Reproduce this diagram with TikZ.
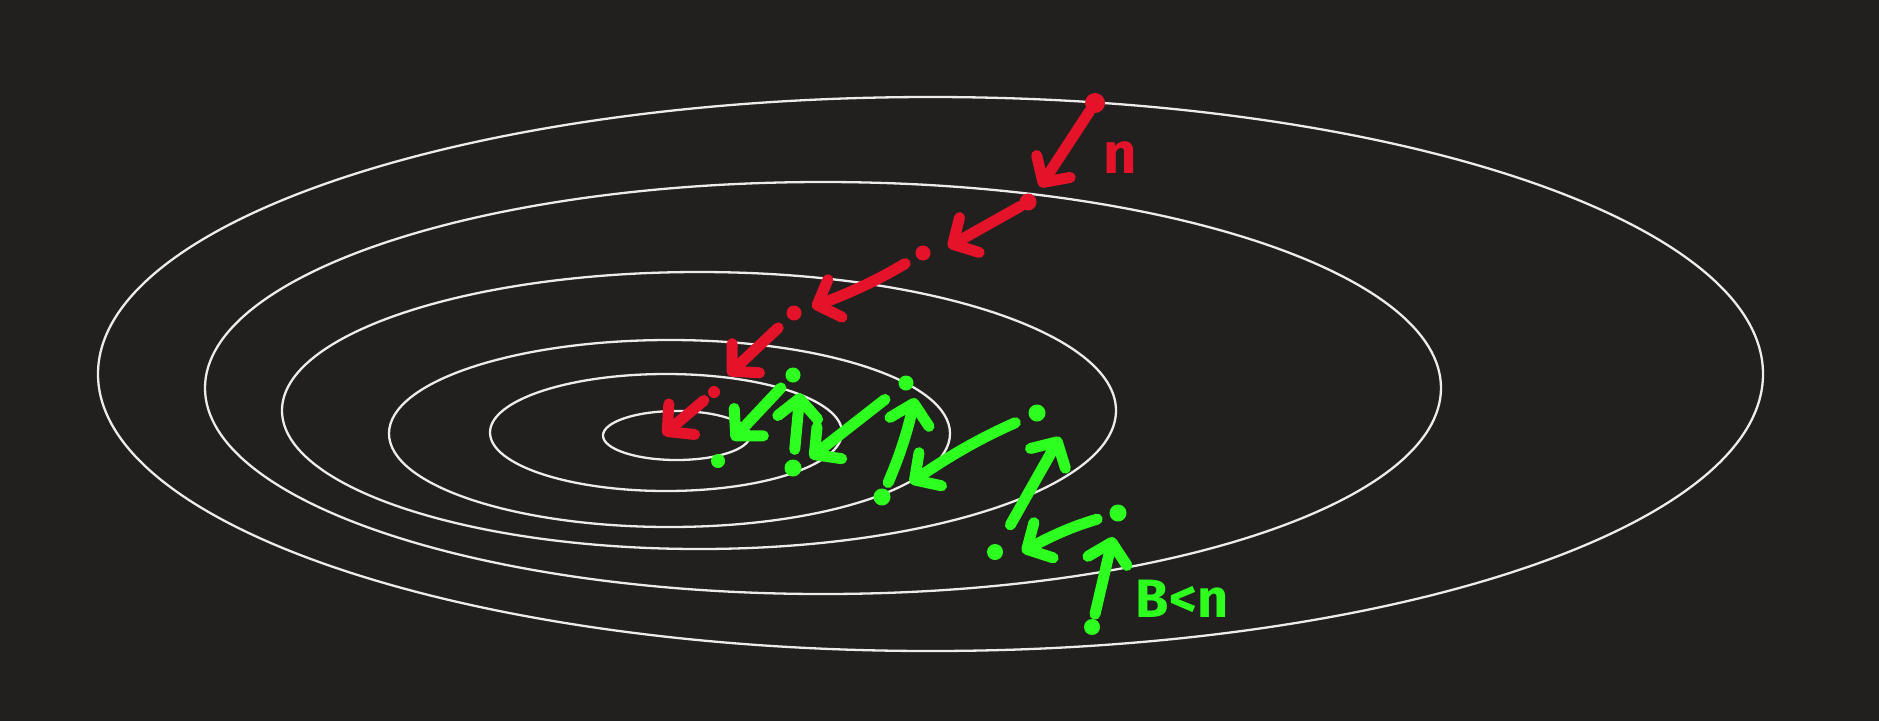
\documentclass[tikz,border=0pt]{standalone}
\usepackage{fontspec}
\setmainfont{Fira Sans}
\usetikzlibrary{arrows.meta}
\definecolor{boardbg}{HTML}{21201E}
\definecolor{contourcol}{HTML}{ECECEC}
\definecolor{stepred}{HTML}{E5132A}
\definecolor{stepgreen}{HTML}{2DFF1E}
\begin{document}
\begin{tikzpicture}[x=1pt,y=-1pt,
      contour/.style={draw=contourcol,line width=2.3pt},
      dotr/.style={circle,fill=stepred,inner sep=0pt,minimum size=15pt},
      dotg/.style={circle,fill=stepgreen,inner sep=0pt,minimum size=15pt},
      stepr/.style={draw=stepred,line width=11pt,line cap=round,
        -{Straight Barb[length=19pt,width=40pt,round]}},
      stepg/.style={draw=stepgreen,line width=11pt,line cap=round,
        -{Straight Barb[length=19pt,width=40pt,round]}}]
      \fill[boardbg] (0,0) rectangle (1879,721);
      \useasboundingbox (0,0) rectangle (1879,721);
      % level curves
      \draw[contour] (930.5,374) ellipse (832.5 and 277);
      \draw[contour] (823,388) ellipse (618 and 206);
      \draw[contour] (699,410.5) ellipse (417 and 138.5);
      \draw[contour] (669.5,433.5) ellipse (280.5 and 93.5);
      \draw[contour] (666,432.5) ellipse (176 and 58.5);
      \draw[contour] (676.5,435.5) ellipse (73.5 and 24.5);
      % red steps
      \node[dotr,minimum size=20pt] (r1) at (1095,103) {};
      \node[dotr,minimum size=17pt] (r2) at (1028,202) {};
      \node[dotr,minimum size=15pt] (r3) at (923,253) {};
      \node[dotr,minimum size=15pt] (r4) at (794,313) {};
      \node[dotr,minimum size=12pt] (r5) at (714,392) {};
      \coordinate (r1t) at (1040,187);
      \coordinate (r2t) at (948,247);
      \coordinate (r3t) at (812,307);
      \coordinate (r4t) at (728,375);
      \coordinate (r5t) at (663,435);
      \draw[stepr] (r1) -- (r1t);
      \draw[stepr] (r2) -- (r2t);
      \draw[stepr,shorten <=13pt] (r3) to[bend left=5] (r3t);
      \draw[stepr,shorten <=14pt] (r4) -- (r4t);
      \draw[stepr,shorten <=7pt] (r5) -- (r5t);
      \node[text=stepred,inner sep=0pt,font=\bfseries\fontsize{58}{58}\selectfont] (rate) at (1120,158) {n};
      % green steps
      \node[dotg,minimum size=16pt] (g1) at (1092,627) {};
      \node[dotg,minimum size=17pt] (g2) at (1118,513) {};
      \node[dotg,minimum size=16pt] (g3) at (995,552) {};
      \node[dotg,minimum size=17pt] (g4) at (1037,413) {};
      \node[dotg,minimum size=17pt] (g5) at (882,497) {};
      \node[dotg] (g6) at (906,383) {};
      \node[dotg,minimum size=17pt] (g7) at (793,468) {};
      \node[dotg] (g8) at (793,375) {};
      \node[dotg,minimum size=14pt] (g9) at (718,461) {};
      \coordinate (g1t) at (1113,537);
      \coordinate (g2t) at (1022,552);
      \coordinate (g3t) at (1060,437);
      \coordinate (g4t) at (910,483);
      \coordinate (g5t) at (915,398);
      \coordinate (g6t) at (810,458);
      \coordinate (g7t) at (800,393);
      \coordinate (g8t) at (732,440);
      \draw[stepg,shorten <=5pt] (g1) -- (g1t);
      \draw[stepg,shorten <=13pt] (g2) to[bend right=6] (g2t);
      \draw[stepg,shorten <=23pt] (g3) -- (g3t);
      \draw[stepg,shorten <=15pt] (g4) to[bend right=5] (g4t);
      \draw[stepg,shorten <=7pt] (g5) to[bend right=5] (g5t);
      \draw[stepg,shorten <=19pt] (g6) -- (g6t);
      \draw[stepg,shorten <=10pt] (g7) -- (g7t);
      \draw[stepg,shorten <=10pt] (g8) -- (g8t);
      \node[text=stepgreen,inner sep=0pt,font=\bfseries\fontsize{54}{54}\selectfont] (batch) at (1182,599) {B<n};
\end{tikzpicture}
\end{document}
